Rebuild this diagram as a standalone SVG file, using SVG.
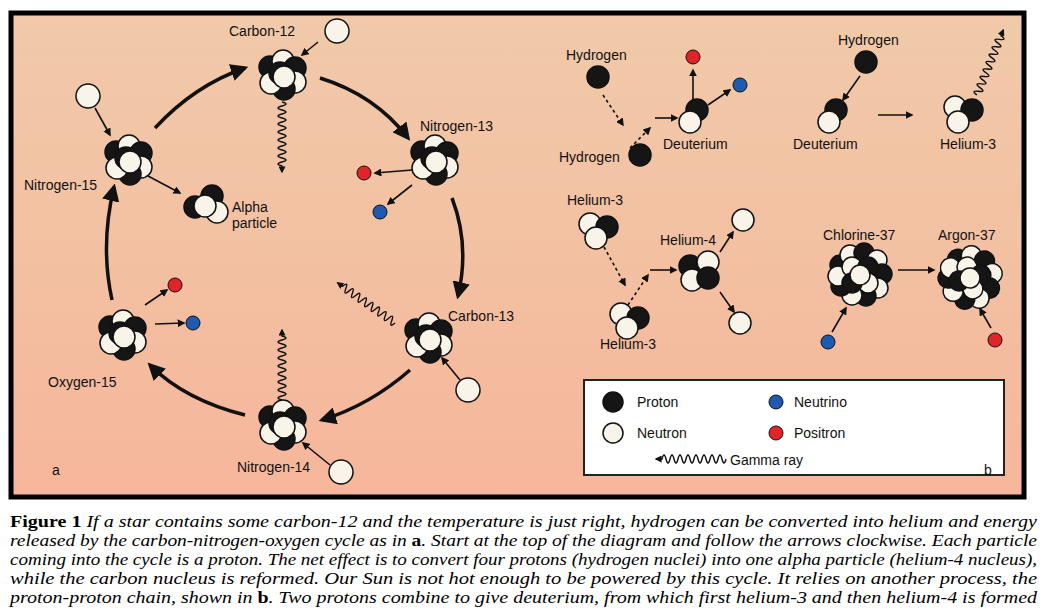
<svg xmlns="http://www.w3.org/2000/svg" xmlns:xlink="http://www.w3.org/1999/xlink" width="1047" height="613" viewBox="0 0 1047 613">
<defs>
<linearGradient id="bg" x1="0" y1="0" x2="0" y2="1"><stop offset="0" stop-color="#f0caa9"/><stop offset="1" stop-color="#f6b69b"/></linearGradient>
<marker id="ah" viewBox="0 0 10 10" refX="8" refY="5" markerWidth="5" markerHeight="5" orient="auto-start-reverse"><path d="M0,0 L10,5 L0,10 z" fill="#111"/></marker>
<marker id="ahs" viewBox="0 0 10 10" refX="8" refY="5" markerWidth="5" markerHeight="5" orient="auto"><path d="M0,0 L10,5 L0,10 z" fill="#111"/></marker>
<path id="wave" d="M0,0 q2,-8 4,0 q2,8 4,0 q2,-8 4,0 q2,8 4,0 q2,-8 4,0 q2,8 4,0 q2,-8 4,0 q2,8 4,0 q2,-8 4,0 q2,8 4,0 q2,-8 4,0 q2,8 4,0 q2,-8 4,0 q2,8 4,0 q2,-8 4,0 q2,8 4,0 l6,0" fill="none" stroke="#111" stroke-width="1.4" marker-end="url(#ahs)"/>
<g id="nuc">
<circle cx="-12" cy="-8" r="11" class="p"/><circle cx="1" cy="-14" r="11" class="n"/><circle cx="13" cy="-7" r="11" class="p"/><circle cx="13" cy="7" r="11" class="n"/><circle cx="2" cy="14" r="11" class="p"/><circle cx="-11" cy="8" r="11" class="n"/><circle cx="-2" cy="-2" r="11" class="p"/><circle cx="2" cy="2" r="11" class="n"/>
</g>
<g id="big">
<circle cx="-20" cy="-10" r="10" class="p"/><circle cx="-10" cy="-20" r="10" class="n"/><circle cx="4" cy="-22" r="10" class="p"/><circle cx="17" cy="-15" r="10" class="n"/><circle cx="22" cy="-1" r="10" class="p"/><circle cx="18" cy="13" r="10" class="n"/><circle cx="6" cy="21" r="10" class="p"/><circle cx="-8" cy="20" r="10" class="n"/><circle cx="-19" cy="11" r="10" class="p"/><circle cx="-22" cy="1" r="10" class="n"/><circle cx="-8" cy="-8" r="10" class="n"/><circle cx="8" cy="-8" r="10" class="p"/><circle cx="8" cy="8" r="10" class="n"/><circle cx="-8" cy="8" r="10" class="p"/><circle cx="0" cy="0" r="10" class="n"/>
</g>
</defs>
<style>
.p{fill:#151515;stroke:#111;stroke-width:1.5}
.n{fill:#f8f4ea;stroke:#111;stroke-width:1.5}
.pos{fill:#e0242a;stroke:#111;stroke-width:1}
.nu{fill:#1e5bb0;stroke:#111;stroke-width:1}
.lbl{font-family:"Liberation Sans",Arial,sans-serif;font-size:14px;fill:#111}
.arc{fill:none;stroke:#111;stroke-width:3.5;marker-end:url(#ah)}
.ar{fill:none;stroke:#111;stroke-width:1.6;marker-end:url(#ahs)}
.cap{font-family:"Liberation Serif","Times New Roman",serif;font-size:16px;font-style:italic;fill:#000}
</style>
<rect width="1047" height="613" fill="#fff"/>
<rect x="11" y="13" width="1013" height="484" fill="url(#bg)" stroke="#000" stroke-width="5"/>

<g id="connectors">
<path class="arc" d="M155,128 Q195,85 245,68"/>
<path class="arc" d="M320,78 Q375,95 408,138"/>
<path class="arc" d="M452,198 Q470,245 458,296"/>
<path class="arc" d="M410,370 Q370,405 322,420"/>
<path class="arc" d="M245,415 Q185,400 150,365"/>
<path class="arc" d="M112,300 Q100,245 114,187"/>
<path class="ar" d="M318,42 L302,55"/>
<path class="ar" d="M95,108 L110,135"/>
<path class="ar" d="M148,176 L180,193"/>
<path class="ar" d="M412,170 L375,173"/>
<path class="ar" d="M412,185 L388,204"/>
<path class="ar" d="M460,380 L442,358"/>
<path class="ar" d="M330,465 L303,443"/>
<path class="ar" d="M145,305 L167,290"/>
<path class="ar" d="M155,324 L184,323"/>
<use href="#wave" transform="translate(282,102) rotate(90)"/>
<use href="#wave" transform="translate(395,323) rotate(-145)"/>
<use href="#wave" transform="translate(282,400) rotate(-90)"/>
<path class="ar" d="M603,95 L623,125" stroke-dasharray="3,3"/>
<path class="ar" d="M630,148 L650,128" stroke-dasharray="3,3"/>
<path class="ar" d="M655,118 L677,118"/>
<path class="ar" d="M693,100 L693,70"/>
<path class="ar" d="M708,105 L730,90"/>
<path class="ar" d="M860,76 L843,100"/>
<path class="ar" d="M878,115 L912,115"/>
<use href="#wave" transform="translate(977,95) rotate(-68)"/>
<path class="ar" d="M604,247 L625,285" stroke-dasharray="3,3"/>
<path class="ar" d="M628,305 L648,275" stroke-dasharray="3,3"/>
<path class="ar" d="M650,270 L676,270"/>
<path class="ar" d="M720,252 L733,232"/>
<path class="ar" d="M720,292 L734,312"/>
<path class="ar" d="M898,270 L934,270"/>
<path class="ar" d="M832,332 L846,308"/>
<path class="ar" d="M991,328 L980,309"/>
</g>

<g id="carbon12"><use href="#nuc" transform="translate(282,75)"/><text class="lbl" x="229" y="36">Carbon-12</text><circle class="n" cx="337" cy="31" r="12"/></g>
<g id="nitrogen13"><use href="#nuc" transform="translate(434,160)"/><text class="lbl" x="420" y="131">Nitrogen-13</text><circle class="pos" cx="364" cy="173" r="7"/><circle class="nu" cx="380" cy="212" r="7"/></g>
<g id="carbon13"><use href="#nuc" transform="translate(428,338)"/><text class="lbl" x="448" y="321">Carbon-13</text><circle class="n" cx="468" cy="390" r="12"/></g>
<g id="nitrogen14"><use href="#nuc" transform="translate(282,425)"/><text class="lbl" x="237" y="472">Nitrogen-14</text><circle class="n" cx="341" cy="472" r="12"/></g>
<g id="oxygen15"><use href="#nuc" transform="translate(122,335)"/><text class="lbl" x="48" y="387">Oxygen-15</text><circle class="pos" cx="175" cy="285" r="7"/><circle class="nu" cx="193" cy="323" r="7"/></g>
<g id="nitrogen15"><use href="#nuc" transform="translate(128,160)"/><text class="lbl" x="24" y="190">Nitrogen-15</text><circle class="n" cx="88" cy="96" r="12"/></g>
<g id="alpha"><circle class="p" cx="212" cy="196" r="11"/><circle class="n" cx="217" cy="212" r="11"/><circle class="p" cx="195" cy="207" r="11"/><circle class="n" cx="205" cy="206" r="11"/><text class="lbl" x="232" y="212">Alpha</text><text class="lbl" x="232" y="228">particle</text></g>
<text class="lbl" x="52" y="475">a</text>

<g id="hydrogen1"><text class="lbl" x="566" y="60">Hydrogen</text><circle class="p" cx="598" cy="77" r="11"/></g>
<g id="hydrogen2"><text class="lbl" x="559" y="162">Hydrogen</text><circle class="p" cx="640" cy="155" r="11"/></g>
<g id="deuterium1"><circle class="p" cx="697" cy="110" r="11"/><circle class="n" cx="690" cy="122" r="11"/><text class="lbl" x="663" y="149">Deuterium</text><circle class="pos" cx="693" cy="57" r="7"/><circle class="nu" cx="740" cy="85" r="7"/></g>
<g id="hydrogen3"><text class="lbl" x="838" y="45">Hydrogen</text><circle class="p" cx="866" cy="62" r="11"/></g>
<g id="deuterium2"><circle class="p" cx="836" cy="110" r="11"/><circle class="n" cx="829" cy="122" r="11"/><text class="lbl" x="793" y="149">Deuterium</text></g>
<g id="helium3a"><circle class="n" cx="955" cy="107" r="11"/><circle class="p" cx="972" cy="110" r="11"/><circle class="n" cx="958" cy="122" r="11"/><text class="lbl" x="940" y="149">Helium-3</text></g>
<g id="helium3b"><text class="lbl" x="567" y="205">Helium-3</text><circle class="n" cx="590" cy="224" r="11"/><circle class="p" cx="607" cy="227" r="11"/><circle class="n" cx="596" cy="238" r="11"/></g>
<g id="helium3c"><circle class="n" cx="621" cy="314" r="11"/><circle class="p" cx="638" cy="318" r="11"/><circle class="n" cx="627" cy="328" r="11"/><text class="lbl" x="600" y="349">Helium-3</text></g>
<g id="helium4"><text class="lbl" x="660" y="245">Helium-4</text><circle class="p" cx="690" cy="266" r="11"/><circle class="n" cx="708" cy="262" r="11"/><circle class="n" cx="692" cy="280" r="11"/><circle class="p" cx="708" cy="278" r="11"/><circle class="n" cx="743" cy="220" r="11"/><circle class="n" cx="740" cy="323" r="11"/></g>
<g id="chlorine37"><text class="lbl" x="823" y="240">Chlorine-37</text><use href="#big" transform="translate(860,275)"/><circle class="nu" cx="828" cy="342" r="7"/></g>
<g id="argon37"><text class="lbl" x="938" y="240">Argon-37</text><use href="#big" transform="translate(970,278) rotate(30)"/><circle class="pos" cx="995" cy="340" r="7"/></g>

<g id="legend">
<rect x="584" y="380" width="420" height="95" fill="#fff" stroke="#222" stroke-width="2"/>
<circle class="p" cx="613" cy="402" r="10"/><text class="lbl" x="637" y="407">Proton</text>
<circle class="nu" cx="776" cy="402" r="7"/><text class="lbl" x="794" y="407">Neutrino</text>
<circle class="n" cx="613" cy="433" r="10"/><text class="lbl" x="637" y="438">Neutron</text>
<circle class="pos" cx="776" cy="433" r="7"/><text class="lbl" x="794" y="438">Positron</text>
<use href="#wave" transform="translate(726,459) rotate(180)"/>
<text class="lbl" x="730" y="465">Gamma ray</text>
</g>
<text class="lbl" x="984" y="475">b</text>

<g id="caption">
<text class="cap" x="10" y="527" textLength="1027" lengthAdjust="spacingAndGlyphs"><tspan font-weight="bold" font-style="normal">Figure 1</tspan> If a star contains some carbon-12 and the temperature is just right, hydrogen can be converted into helium and energy</text>
<text class="cap" x="10" y="546" textLength="1027" lengthAdjust="spacingAndGlyphs">released by the carbon-nitrogen-oxygen cycle as in <tspan font-weight="bold" font-style="normal">a</tspan>. Start at the top of the diagram and follow the arrows clockwise. Each particle</text>
<text class="cap" x="10" y="565" textLength="1027" lengthAdjust="spacingAndGlyphs">coming into the cycle is a proton. The net effect is to convert four protons (hydrogen nuclei) into one alpha particle (helium-4 nucleus),</text>
<text class="cap" x="10" y="584" textLength="1027" lengthAdjust="spacingAndGlyphs">while the carbon nucleus is reformed. Our Sun is not hot enough to be powered by this cycle. It relies on another process, the</text>
<text class="cap" x="10" y="603" textLength="1027" lengthAdjust="spacingAndGlyphs">proton-proton chain, shown in <tspan font-weight="bold" font-style="normal">b</tspan>. Two protons combine to give deuterium, from which first helium-3 and then helium-4 is formed</text>
</g>
</svg>
